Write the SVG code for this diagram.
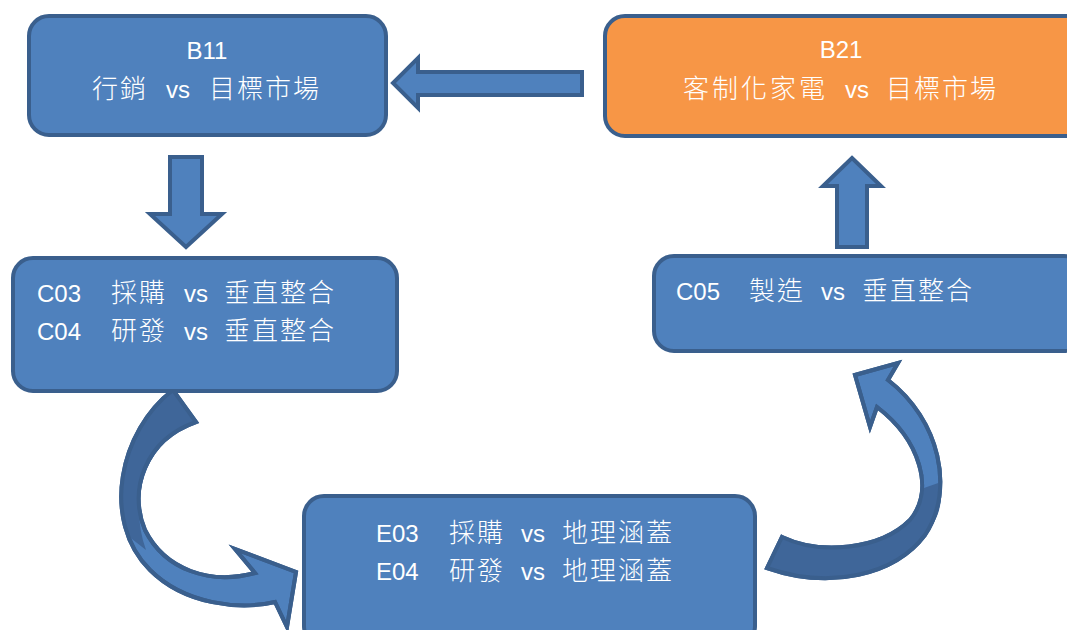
<svg xmlns="http://www.w3.org/2000/svg" width="1067" height="630" viewBox="0 0 1067 630">
<style>
.box{fill:#4F81BD;stroke:#3A5F8D;stroke-width:4}
.org{fill:#F79646;stroke:#3A5F8D;stroke-width:4}
.arr{fill:#4F81BD;stroke:#3A5F8D;stroke-width:4;stroke-linejoin:miter}
.dark{fill:#3F6699;stroke:none}
.line{fill:none;stroke:#3A5F8D;stroke-width:4;stroke-linejoin:miter}
text{fill:#FFFFFF;font-family:"Liberation Sans","Noto Sans CJK TC",sans-serif;font-size:24px}
.cj{font-family:"Noto Sans CJK TC","Liberation Sans",sans-serif;font-size:26px;font-weight:300;letter-spacing:2px}
</style>
<rect width="1067" height="630" fill="#FFFFFF"/>
<g id="connectors">
<path class="arr" d="M582,72 L418,72 L418,58 L393,83 L418,108 L418,95 L582,95 Z"/>
<path class="arr" d="M170,157 L202,157 L202,214 L222,214 L186,247 L150,214 L170,214 Z"/>
<path class="arr" d="M852,158 L881,186 L867,186 L867,247 L837,247 L837,186 L823,186 Z"/>
<g id="curve-left">
<path class="arr" d="M173,390 C120,430 100,520 150,570 C185,605 240,610 275,602 L287,627 L296,572 L235,549 L255,573 C210,585 165,570 145,530 C128,490 145,440 196,422 Z"/>
<path class="dark" d="M173,390 C130.6,422 109.3,486 128.1,536 L146,550 C128,500 145,440 196,422 Z"/>
<path class="line" d="M173,390 C120,430 100,520 150,570 C185,605 240,610 275,602 L287,627 L296,572 L235,549 L255,573 C210,585 165,570 145,530 C128,490 145,440 196,422 Z"/>
</g>
<g id="curve-right">
<path class="arr" d="M767,568 L782,537 C820,555 880,550 910,520 C935,490 920,440 877,407 L870,427 L855,375 L898,363 L888,380 C940,420 955,490 925,535 C895,575 830,590 767,568 Z"/>
<path class="dark" d="M767,568 L782,537 C820,555 880,550 910,520 C918,510 922,500 924,488 L941,482 C943,505 938,520 925,535 C895,575 830,590 767,568 Z"/>
<path class="line" d="M767,568 L782,537 C820,555 880,550 910,520 C935,490 920,440 877,407 L870,427 L855,375 L898,363 L888,380 C940,420 955,490 925,535 C895,575 830,590 767,568 Z"/>
</g>
</g>
<g id="B11">
<rect class="box" x="29" y="16" width="357" height="119" rx="20"/>
<text x="207" y="59" text-anchor="middle">B11</text>
<text y="98"><tspan class="cj" x="92">行銷</tspan><tspan x="166">vs</tspan><tspan class="cj" x="209">目標市場</tspan></text>
</g>
<g id="B21">
<rect class="org" x="605" y="16" width="480" height="120" rx="20"/>
<text x="841" y="58" text-anchor="middle">B21</text>
<text y="98"><tspan class="cj" x="683" style="letter-spacing:3px">客制化家電</tspan><tspan x="845">vs</tspan><tspan class="cj" x="886">目標市場</tspan></text>
</g>
<g id="C03">
<rect class="box" x="13" y="258" width="384" height="133" rx="20"/>
<text y="302"><tspan x="37">C03</tspan><tspan class="cj" x="111">採購</tspan><tspan x="184">vs</tspan><tspan class="cj" x="224">垂直整合</tspan></text>
<text y="340"><tspan x="37">C04</tspan><tspan class="cj" x="111">研發</tspan><tspan x="184">vs</tspan><tspan class="cj" x="224">垂直整合</tspan></text>
</g>
<g id="C05">
<rect class="box" x="654" y="256" width="430" height="95" rx="20"/>
<text y="300"><tspan x="676">C05</tspan><tspan class="cj" x="749">製造</tspan><tspan x="821">vs</tspan><tspan class="cj" x="862">垂直整合</tspan></text>
</g>
<g id="E03">
<rect class="box" x="304" y="496" width="451" height="150" rx="20"/>
<text y="542"><tspan x="376">E03</tspan><tspan class="cj" x="449">採購</tspan><tspan x="521">vs</tspan><tspan class="cj" x="562">地理涵蓋</tspan></text>
<text y="580"><tspan x="376">E04</tspan><tspan class="cj" x="449">研發</tspan><tspan x="521">vs</tspan><tspan class="cj" x="562">地理涵蓋</tspan></text>
</g>
</svg>
